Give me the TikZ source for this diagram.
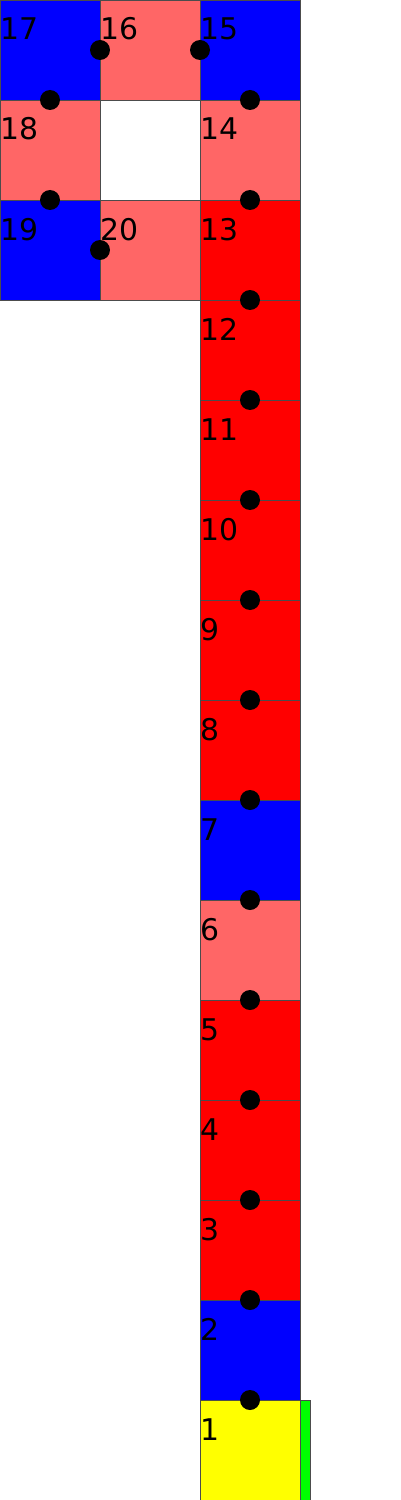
\documentclass[tikz,border=0pt]{standalone}
\usepackage{fontspec}
\setmainfont{DejaVu Sans}
\usetikzlibrary{calc}
\definecolor{cellblue}{RGB}{0,0,255}
\definecolor{cellred}{RGB}{255,0,0}
\definecolor{cellpink}{RGB}{255,102,102}
\definecolor{cellyellow}{RGB}{255,255,0}
\definecolor{cellgreen}{RGB}{0,255,0}
\begin{document}
\begin{tikzpicture}[x=0.02cm,y=-0.02cm,
  cell/.style={draw=black!70,line width=0.5pt,minimum size=2cm,inner sep=0,outer sep=0},
  num/.style={anchor=base west,inner sep=0,yshift=-0.8cm,font=\fontsize{17}{20}\selectfont},
  dot/.style={circle,fill=black,minimum size=0.4cm,inner sep=0}]
\useasboundingbox (0,0) rectangle (400,1500);
% squares
\node[cell,fill=cellyellow] (c1) at (250,1450) {};
\node[cell,fill=cellblue] (c2) at (250,1350) {};
\node[cell,fill=cellred] (c3) at (250,1250) {};
\node[cell,fill=cellred] (c4) at (250,1150) {};
\node[cell,fill=cellred] (c5) at (250,1050) {};
\node[cell,fill=cellpink] (c6) at (250,950) {};
\node[cell,fill=cellblue] (c7) at (250,850) {};
\node[cell,fill=cellred] (c8) at (250,750) {};
\node[cell,fill=cellred] (c9) at (250,650) {};
\node[cell,fill=cellred] (c10) at (250,550) {};
\node[cell,fill=cellred] (c11) at (250,450) {};
\node[cell,fill=cellred] (c12) at (250,350) {};
\node[cell,fill=cellred] (c13) at (250,250) {};
\node[cell,fill=cellpink] (c14) at (250,150) {};
\node[cell,fill=cellblue] (c15) at (250,50) {};
\node[cell,fill=cellpink] (c16) at (150,50) {};
\node[cell,fill=cellblue] (c17) at (50,50) {};
\node[cell,fill=cellpink] (c18) at (50,150) {};
\node[cell,fill=cellblue] (c19) at (50,250) {};
\node[cell,fill=cellpink] (c20) at (150,250) {};
\node[draw=black!70,line width=0.5pt,fill=cellgreen,minimum width=0.2cm,minimum height=2cm,inner sep=0,anchor=north west] (bar) at (c1.north east) {};
% numbers
\node[num] (n1) at (c1.north west) {1};
\node[num] (n2) at (c2.north west) {2};
\node[num] (n3) at (c3.north west) {3};
\node[num] (n4) at (c4.north west) {4};
\node[num] (n5) at (c5.north west) {5};
\node[num] (n6) at (c6.north west) {6};
\node[num] (n7) at (c7.north west) {7};
\node[num] (n8) at (c8.north west) {8};
\node[num] (n9) at (c9.north west) {9};
\node[num] (n10) at (c10.north west) {10};
\node[num] (n11) at (c11.north west) {11};
\node[num] (n12) at (c12.north west) {12};
\node[num] (n13) at (c13.north west) {13};
\node[num] (n14) at (c14.north west) {14};
\node[num] (n15) at (c15.north west) {15};
\node[num] (n16) at (c16.north west) {16};
\node[num] (n17) at (c17.north west) {17};
\node[num] (n18) at (c18.north west) {18};
\node[num] (n19) at (c19.north west) {19};
\node[num] (n20) at (c20.north west) {20};
% links
\node[dot] (d1) at ($(c1)!0.5!(c2)$) {};
\node[dot] (d2) at ($(c2)!0.5!(c3)$) {};
\node[dot] (d3) at ($(c3)!0.5!(c4)$) {};
\node[dot] (d4) at ($(c4)!0.5!(c5)$) {};
\node[dot] (d5) at ($(c5)!0.5!(c6)$) {};
\node[dot] (d6) at ($(c6)!0.5!(c7)$) {};
\node[dot] (d7) at ($(c7)!0.5!(c8)$) {};
\node[dot] (d8) at ($(c8)!0.5!(c9)$) {};
\node[dot] (d9) at ($(c9)!0.5!(c10)$) {};
\node[dot] (d10) at ($(c10)!0.5!(c11)$) {};
\node[dot] (d11) at ($(c11)!0.5!(c12)$) {};
\node[dot] (d12) at ($(c12)!0.5!(c13)$) {};
\node[dot] (d13) at ($(c13)!0.5!(c14)$) {};
\node[dot] (d14) at ($(c14)!0.5!(c15)$) {};
\node[dot] (d15) at ($(c15)!0.5!(c16)$) {};
\node[dot] (d16) at ($(c16)!0.5!(c17)$) {};
\node[dot] (d17) at ($(c17)!0.5!(c18)$) {};
\node[dot] (d18) at ($(c18)!0.5!(c19)$) {};
\node[dot] (d19) at ($(c19)!0.5!(c20)$) {};
\end{tikzpicture}
\end{document}
